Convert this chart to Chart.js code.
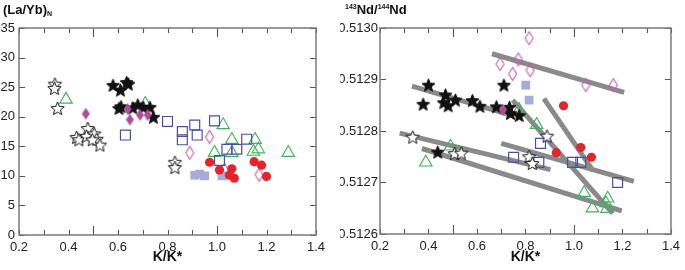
<!DOCTYPE html>
<html><head><meta charset="utf-8">
<script src="https://cdn.jsdelivr.net/npm/chart.js@4/dist/chart.umd.min.js"></script>
<style>
html,body{margin:0;padding:0;background:#fff;width:685px;height:270px;overflow:hidden;font-family:"Liberation Sans",Arial,sans-serif;}
#wl{position:absolute;left:0;top:0;width:340px;height:270px;}
#wr{position:absolute;left:340px;top:0;width:345px;height:270px;}
.ttl{position:absolute;font-weight:bold;font-size:13px;color:#111;white-space:nowrap;}
.ttl sub{font-size:7px;vertical-align:-2px;}
.ttl sup{font-size:7px;vertical-align:5px;}
</style></head>
<body>
<div id="wl"><canvas id="cl" width="340" height="270"></canvas></div>
<div id="wr"><canvas id="cr" width="345" height="270"></canvas></div>
<div class="ttl" style="left:3px;top:2px;">(La/Yb)<sub>N</sub></div>
<div class="ttl" style="left:345px;top:2px;"><sup>143</sup>Nd/<sup>144</sup>Nd</div>
<script>
// ---------- Left panel: (La/Yb)N vs K/K* ----------
const openStarL_x = [0.345,0.343,0.356,0.478,0.433,0.442,0.473,0.504,0.514,0.527,0.496,0.83,0.83];
const openStarL_y = [25.5,24.8,21.4,18.0,16.5,16.1,16.7,17.1,16.2,15.2,16.1,12.3,11.4];
const blackStarL_x = [0.58,0.61,0.635,0.642,0.604,0.612,0.68,0.702,0.729,0.743,0.66];
const blackStarL_y = [25.3,24.5,25.8,25.5,21.4,21.7,22.0,21.6,21.6,19.9,21.5];
const magFillL_x = [0.47,0.639,0.648,0.689,0.72];
const magFillL_y = [20.5,21.3,19.5,20.3,20.3];
const openDiaL_x = [0.97,0.89,1.17,1.03];
const openDiaL_y = [16.6,13.9,10.2,11.0];
const openSqL_x = [0.63,0.80,0.86,0.86,0.91,0.92,0.99,1.01,1.04,1.08,1.12];
const openSqL_y = [16.9,19.2,17.5,16.1,18.6,16.9,19.3,12.6,14.5,14.5,16.2];
const lightSqL_x = [0.91,0.93,0.95,1.02];
const lightSqL_y = [10.1,10.3,10.0,10.0];
const redL_x = [0.97,1.01,1.06,1.05,1.07,1.15,1.18,1.20];
const redL_y = [12.3,11.0,11.2,10.1,9.6,12.4,11.8,9.9];
const triL_x = [0.39,0.71,1.025,1.06,1.154,0.99,1.06,1.147,1.167,1.288];
const triL_y = [22.9,22.2,18.6,16.1,16.1,13.9,13.9,14.1,14.5,13.9];

// ---------- Right panel: 143Nd/144Nd vs K/K* ----------
const openStarR_x = [0.335,0.508,0.535,0.815,0.828,0.889];
const openStarR_y = [0.512788,0.512756,0.512757,0.51275,0.512737,0.51279];
const blackStarR_x = [0.40,0.378,0.47,0.463,0.481,0.511,0.581,0.612,0.68,0.711,0.734,0.738,0.774,0.438];
const blackStarR_y = [0.512889,0.512852,0.51287,0.512855,0.512849,0.51286,0.512859,0.512848,0.512847,0.512889,0.512846,0.512834,0.51283,0.512759];
const magFillR_x = [0.707];
const magFillR_y = [0.512841];
const openDiaR_x = [0.815,0.77,0.695,0.747,0.819,1.049,1.162];
const openDiaR_y = [0.51298,0.512939,0.51293,0.512911,0.512918,0.512889,0.512889];
const lightSqR_x = [0.801,0.815];
const lightSqR_y = [0.512889,0.51286];
const redR_x = [0.957,0.927,1.028,1.072];
const redR_y = [0.512849,0.512758,0.512768,0.512749];
const openSqR_x = [0.862,0.751,0.855,0.994,1.028,1.18];
const openSqR_y = [0.512776,0.512749,0.512739,0.512739,0.512739,0.5127];
const triR_x = [0.389,0.491,0.774,0.846,1.042,1.076,1.139,1.132,1.136];
const triR_y = [0.512739,0.51277,0.512841,0.512812,0.51268,0.51265,0.512669,0.51266,0.512649];
// grey trend lines (start / end)
const trendX1 = [0.662,0.332,0.281,0.373,0.700,0.747,0.876];
const trendY1 = [0.51295,0.512887,0.512796,0.512766,0.512776,0.51286,0.512863];
const trendX2 = [1.207,0.747,0.903,1.197,1.247,1.16,1.08];
const trendY2 = [0.512875,0.51283,0.512725,0.512645,0.512702,0.51264,0.512722];

// axis ticks
const xTicks = [0.2,0.4,0.6,0.8,1.0,1.2,1.4];
const yTicksL = [0,5,10,15,20,25,30,35];
const yTicksR = [0.5126,0.5127,0.5128,0.5129,0.5130];

const FONT = '"Liberation Sans", Arial, sans-serif';
const C_GREEN = '#3fb35a', C_BLUE = '#4b4fa3', C_LIGHT = '#a6acd9', C_RED = '#e3242b',
      C_MAG = '#ac4f98', C_MAGO = '#c25fae', C_LINE = '#8a8a8a';

function mkCanvas(w,h){const c=document.createElement('canvas');c.width=w;c.height=h;return c;}
function starImg(R, fill, stroke){
  const s=Math.ceil(R*2+3), c=mkCanvas(s,s), g=c.getContext('2d');
  const cx=s/2, cy=s/2+0.5, r=R*0.45;
  g.beginPath();
  for(let i=0;i<10;i++){const rr=i%2?r:R;const a=-Math.PI/2+i*Math.PI/5;
    const px=cx+rr*Math.cos(a), py=cy+rr*Math.sin(a); i?g.lineTo(px,py):g.moveTo(px,py);}
  g.closePath(); g.fillStyle=fill; g.fill(); g.lineWidth=1; g.strokeStyle=stroke; g.stroke();
  return c;
}
function diaImg(w,h,fill,stroke){
  const c=mkCanvas(w+3,h+3), g=c.getContext('2d'); const cx=(w+3)/2, cy=(h+3)/2;
  g.beginPath(); g.moveTo(cx,cy-h/2); g.lineTo(cx+w/2,cy); g.lineTo(cx,cy+h/2); g.lineTo(cx-w/2,cy); g.closePath();
  if(fill){g.fillStyle=fill;g.fill();}
  if(stroke){g.lineWidth=1.1;g.strokeStyle=stroke;g.stroke();}
  return c;
}
const imgOpenStar = starImg(7,'#ffffff','#111111');
const imgBlackStar = starImg(6.8,'#111111','#111111');
const imgMagFill = diaImg(8,12,C_MAG,null);
const imgOpenDia = diaImg(8,13,null,C_MAGO);

function pts(xs,ys){return xs.map((x,i)=>({x:x,y:ys[i]}));}

function pointSets(d){
  return [
    {data:pts(d.mfx,d.mfy),pointStyle:imgMagFill,pointRadius:5,order:1},
    {data:pts(d.rx,d.ry),pointStyle:'circle',pointRadius:4.6,backgroundColor:C_RED,borderColor:C_RED,borderWidth:0,order:2},
    {data:pts(d.bsx,d.bsy),pointStyle:imgBlackStar,pointRadius:5,order:3},
    {data:pts(d.osx,d.osy),pointStyle:imgOpenStar,pointRadius:5,order:4},
    {data:pts(d.lsx,d.lsy),pointStyle:'rect',pointRadius:6.2,backgroundColor:C_LIGHT,borderColor:C_LIGHT,borderWidth:0,order:5},
    {data:pts(d.sqx,d.sqy),pointStyle:'rect',pointRadius:7,backgroundColor:'rgba(0,0,0,0)',borderColor:C_BLUE,borderWidth:1.2,order:6},
    {data:pts(d.odx,d.ody),pointStyle:imgOpenDia,pointRadius:5,order:7},
    {data:pts(d.tx,d.ty),pointStyle:'triangle',pointRadius:7.2,backgroundColor:'rgba(0,0,0,0)',borderColor:C_GREEN,borderWidth:1.1,order:8}
  ];
}

function framePlugin(yVals, yLen){
  return {id:'frame'+yLen, afterDraw(chart){
    const g=chart.ctx, a=chart.chartArea, xs=chart.scales.x, ys=chart.scales.y;
    g.save();
    g.strokeStyle='#555'; g.lineWidth=1.1;
    for(let i=0;i<=12;i++){
      const v=0.2+i*0.1, px=Math.round(xs.getPixelForValue(v))+0.5;
      const L=(i===3||i===8)?9:5;
      g.beginPath(); g.moveTo(px,a.bottom); g.lineTo(px,a.bottom-L); g.moveTo(px,a.top); g.lineTo(px,a.top+L); g.stroke();
    }
    yVals.forEach(v=>{const py=Math.round(ys.getPixelForValue(v))+0.5;
      g.beginPath(); g.moveTo(a.left,py); g.lineTo(a.left+yLen,py); g.moveTo(a.right,py); g.lineTo(a.right-yLen,py); g.stroke();});
    g.strokeStyle='#7a7a7a'; g.lineWidth=1.5;
    g.strokeRect(a.left,a.top,a.right-a.left,a.bottom-a.top);
    g.restore();
  }};
}

function xScale(h){
  return {type:'linear',min:0.2,max:1.4,
    afterBuildTicks(s){s.ticks=xTicks.map(v=>({value:v}));},
    ticks:{font:{family:FONT,size:13},color:'#222',padding:5,callback:v=>v.toFixed(1)},
    grid:{display:false,drawTicks:false},border:{display:false},
    title:{display:true,text:'K/K*',font:{family:FONT,size:14,weight:'bold'},color:'#111',padding:{top:0,bottom:4}},
    afterFit(s){s.height=h;}};
}

Chart.defaults.animation=false;

new Chart(document.getElementById('cl'),{
  type:'scatter',
  data:{datasets:pointSets({mfx:magFillL_x,mfy:magFillL_y,rx:redL_x,ry:redL_y,bsx:blackStarL_x,bsy:blackStarL_y,
    osx:openStarL_x,osy:openStarL_y,lsx:lightSqL_x,lsy:lightSqL_y,sqx:openSqL_x,sqy:openSqL_y,
    odx:openDiaL_x,ody:openDiaL_y,tx:triL_x,ty:triL_y})},
  options:{responsive:false,animation:false,
    layout:{padding:{top:28,right:24,left:0,bottom:0}},
    plugins:{legend:{display:false},tooltip:{enabled:false}},
    scales:{
      x:xScale(35),
      y:{type:'linear',min:0,max:35,
        afterBuildTicks(s){s.ticks=yTicksL.map(v=>({value:v}));},
        ticks:{font:{family:FONT,size:13},color:'#222',padding:4},
        grid:{display:false,drawTicks:false},border:{display:false},
        afterFit(s){s.width=19;}}
    }},
  plugins:[framePlugin(yTicksL,6)]
});

const trendSets = trendX1.map((x1,i)=>({data:[{x:x1,y:trendY1[i]},{x:trendX2[i],y:trendY2[i]}],
  showLine:true,borderColor:C_LINE,borderWidth:5,pointRadius:0,borderCapStyle:'butt',order:20}));

new Chart(document.getElementById('cr'),{
  type:'scatter',
  data:{datasets:pointSets({mfx:magFillR_x,mfy:magFillR_y,rx:redR_x,ry:redR_y,bsx:blackStarR_x,bsy:blackStarR_y,
    osx:openStarR_x,osy:openStarR_y,lsx:lightSqR_x,lsy:lightSqR_y,sqx:openSqR_x,sqy:openSqR_y,
    odx:openDiaR_x,ody:openDiaR_y,tx:triR_x,ty:triR_y}).concat(trendSets)},
  options:{responsive:false,animation:false,
    layout:{padding:{top:28,right:9,left:0,bottom:0}},
    plugins:{legend:{display:false},tooltip:{enabled:false}},
    scales:{
      x:xScale(36),
      y:{type:'linear',min:0.5126,max:0.5130,
        afterBuildTicks(s){s.ticks=yTicksR.map(v=>({value:v}));},
        ticks:{font:{family:FONT,size:13},color:'#222',padding:2,callback:v=>Number(v).toFixed(4)},
        grid:{display:false,drawTicks:false},border:{display:false},
        afterFit(s){s.width=40;}}
    }},
  plugins:[framePlugin(yTicksR,6)]
});
</script>
</body></html>
